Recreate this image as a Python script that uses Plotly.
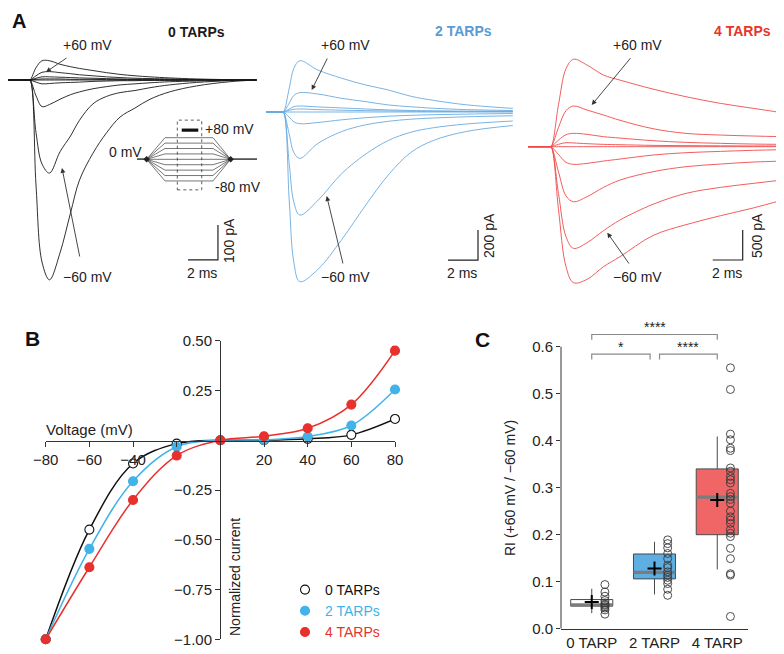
import plotly.graph_objects as go

# The page body adds an 8 px margin, so the figure is 8 px smaller and coordinates are offset.
W0, H0 = 784, 654
OFF = 8
W, H = W0 - OFF, H0 - OFF
FONT = "Liberation Sans, Arial, Helvetica, sans-serif"

# ---------------- DATA ----------------
voltages = [-80, -60, -40, -20, 0, 20, 40, 60, 80]

# Panel A: current traces (pA) sampled at times (ms) relative to step onset
t_0tarp = [-1.47, -0.15, 0, 0.4, 0.8, 1.3, 2.0, 2.7, 3.3, 4.2, 5.1, 6.0, 7.0, 8.0, 9.3, 11.1, 13.3, 15.1]
i_0tarp = {
    -80: [0, 0, 0, -300, -520, -571, -494, -380, -286, -209, -151, -106, -80, -55, -34, -17, -5, 0],
    -60: [0, 0, 0, -150, -240, -266, -205, -160, -115, -68, -47, -36, -30, -22, -14, -7, -2, 0],
    -40: [0, 0, 0, -45, -76, -70, -55, -42, -34, -25, -19, -14, -11, -8, -5, -3, -1, 0],
    -20: [0, 0, 0, -6, -11, -10, -8, -7, -6, -4, -3, -2, -2, -1, -1, 0, 0, 0],
    0:   [0, 0, 0, 0, 0, 0, 0, 0, 0, 0, 0, 0, 0, 0, 0, 0, 0, 0],
    20:  [0, 0, 0, 2, 3, 3, 3, 2, 2, 2, 1, 1, 1, 0, 0, 0, 0, 0],
    40:  [0, 0, 0, 5, 9, 9, 8, 7, 6, 5, 4, 3, 2, 2, 1, 1, 0, 0],
    60:  [0, 0, 0, 12, 22, 24, 21, 18, 15, 12, 9, 7, 5, 4, 3, 1, 0, 0],
    80:  [0, 0, 0, 35, 55, 55, 45, 38, 33, 27, 21, 16, 12, 9, 6, 3, 1, 0],
}

t_2tarp = [-1.15, -0.15, 0, 0.4, 0.7, 1.1, 2.3, 3.9, 5.5, 7.0, 8.5, 10.0, 12.2, 15.3]
i_2tarp = {
    -80: [0, 0, 0, -600, -1000, -1131, -1050, -850, -620, -420, -270, -190, -130, -90],
    -60: [0, 0, 0, -350, -600, -687, -590, -410, -280, -190, -135, -105, -80, -60],
    -40: [0, 0, 0, -150, -270, -309, -210, -130, -85, -62, -48, -40, -32, -25],
    -20: [0, 0, 0, -35, -65, -78, -70, -52, -38, -28, -22, -18, -14, -10],
    0:   [0, 0, 0, 0, 0, 0, 0, 0, 0, 0, 0, 0, 0, 0],
    20:  [0, 0, 0, 12, 18, 20, 16, 12, 9, 7, 5, 4, 3, 3],
    40:  [0, 0, 0, 20, 35, 40, 34, 27, 20, 14, 10, 8, 6, 5],
    60:  [0, 0, 0, 60, 110, 129, 120, 91, 69, 47, 35, 25, 16, 10],
    80:  [0, 0, 0, 160, 290, 342, 280, 225, 180, 147, 105, 78, 48, 24],
}

t_4tarp = [-1.53, -0.15, 0, 0.5, 1.0, 1.5, 2.4, 3.5, 4.6, 6.8, 9.0, 11.3, 13.5, 15.4]
i_4tarp = {
    -80: [0, 0, 0, -1050, -2000, -2267, -2211, -2000, -1833, -1480, -1300, -1150, -1020, -890],
    -60: [0, 0, 0, -780, -1500, -1694, -1600, -1400, -1222, -960, -778, -678, -611, -556],
    -40: [0, 0, 0, -420, -820, -917, -833, -678, -556, -417, -333, -289, -256, -240],
    -20: [0, 0, 0, -130, -260, -294, -278, -239, -206, -139, -100, -78, -60, -50],
    0:   [0, 0, 0, 0, 0, 0, 0, 0, 0, 0, 0, 0, 0, 0],
    20:  [0, 0, 0, 40, 67, 62, 50, 39, 33, 22, 17, 15, 12, 11],
    40:  [0, 0, 0, 110, 200, 222, 206, 167, 144, 100, 72, 56, 44, 39],
    60:  [0, 0, 0, 320, 600, 678, 611, 528, 440, 300, 222, 194, 178, 167],
    80:  [0, 0, 0, 700, 1300, 1457, 1361, 1194, 1110, 960, 833, 722, 639, 567],
}

scale_ms = 2
scale_pA = [100, 200, 500]

# Voltage protocol (inset)
protocol_t = [0, 1.2, 3.5, 9.5, 11.7, 15]

# Panel B: normalized I-V
iv_v = [-80, -60, -40, -20, 0, 20, 40, 60, 80]
iv_0 = [-1.0, -0.449, -0.117, -0.017, 0, 0.0, 0.007, 0.027, 0.107]
iv_2 = [-1.0, -0.546, -0.206, -0.033, 0, 0.002, 0.019, 0.074, 0.255]
iv_4 = [-1.0, -0.638, -0.300, -0.077, 0, 0.020, 0.060, 0.179, 0.450]
iv_4_err = [0, 0, 0, 0, 0, 0, 0, 0, 0.02]

# Panel C: rectification index
c_groups = ["0 TARP", "2 TARP", "4 TARP"]
c_q1 = [0.048, 0.106, 0.200]
c_median = [0.051, 0.120, 0.280]
c_q3 = [0.062, 0.159, 0.340]
c_low = [0.033, 0.073, 0.126]
c_high = [0.085, 0.185, 0.409]
c_mean = [0.057, 0.128, 0.274]
c_points = [
    [0.094, 0.078, 0.069, 0.060, 0.055, 0.052, 0.050, 0.047, 0.044, 0.040, 0.031],
    [0.189, 0.181, 0.172, 0.160, 0.149, 0.135, 0.130, 0.121, 0.114, 0.109, 0.103, 0.096, 0.084, 0.071],
    [0.555, 0.509, 0.414, 0.402, 0.384, 0.379, 0.342, 0.335, 0.324, 0.317, 0.310, 0.288, 0.281,
     0.275, 0.267, 0.250, 0.238, 0.231, 0.224, 0.211, 0.203, 0.196, 0.171, 0.149, 0.117, 0.114, 0.026],
]
sig_pairs = [(0, 2), (0, 1), (1, 2)]
sig_labels = ["****", "*", "****"]

# ---------------- helpers (reference-pixel -> paper) ----------------
def px(x): return (x - OFF) / W
def py(y): return 1 - (y - OFF) / H
def xdom(a, b): return [max(0.0, px(a)), min(1.0, px(b))]
def ydom(top, bottom): return [max(0.0, py(bottom)), min(1.0, py(top))]

fig = go.Figure()

# ---------------- Panel A traces ----------------
panels = [
    (t_0tarp, i_0tarp, "x", "y", "#1a1a1a"),
    (t_2tarp, i_2tarp, "x2", "y2", "#6aaae0"),
    (t_4tarp, i_4tarp, "x3", "y3", "#f04b4b"),
]
for tt, data, xa, ya, col in panels:
    for v in voltages:
        fig.add_trace(go.Scatter(x=tt, y=data[v], mode="lines", xaxis=xa, yaxis=ya,
                                 line=dict(color=col, width=0.9, shape="spline", smoothing=1),
                                 showlegend=False, hoverinfo="skip"))

# scale bars (corner position in each panel's data units)
corners = [(12.53, -514, "x", "y"), (12.98, -987, "x2", "y2"), (12.78, -1888, "x3", "y3")]
for (ct, ci, xa, ya), spa in zip(corners, scale_pA):
    fig.add_trace(go.Scatter(x=[ct - scale_ms, ct, ct], y=[ci, ci, ci + spa], mode="lines",
                             xaxis=xa, yaxis=ya, line=dict(color="#222", width=1.2),
                             showlegend=False, hoverinfo="skip"))

# protocol inset
for v in voltages:
    fig.add_trace(go.Scatter(x=protocol_t, y=[0, 0, v, v, 0, 0], mode="lines", xaxis="x4", yaxis="y4",
                             line=dict(color="#555", width=0.8), showlegend=False, hoverinfo="skip"))
fig.add_trace(go.Scatter(x=[protocol_t[1], protocol_t[4]], y=[0, 0], mode="markers", xaxis="x4", yaxis="y4",
                         marker=dict(symbol="diamond", size=5, color="#222"), showlegend=False, hoverinfo="skip"))

# ---------------- Panel B ----------------
iv_sets = [
    (iv_0, "#111111", "white", "0 TARPs", None),
    (iv_2, "#41b3e9", "#41b3e9", "2 TARPs", None),
    (iv_4, "#e8302c", "#e8302c", "4 TARPs", iv_4_err),
]
for vals, col, fill, name, err in iv_sets:
    fig.add_trace(go.Scatter(x=iv_v, y=vals, mode="lines", xaxis="x5", yaxis="y5",
                             line=dict(color=col, width=1.5, shape="spline", smoothing=1),
                             showlegend=False, hoverinfo="skip"))
for vals, col, fill, name, err in iv_sets:
    tcol = "#111111" if name.startswith("0") else col
    fig.add_trace(go.Scatter(
        x=iv_v, y=vals, mode="markers", xaxis="x5", yaxis="y5", cliponaxis=False,
        marker=dict(size=9, color=fill, line=dict(color=col, width=1.1)),
        error_y=dict(type="data", array=err, visible=err is not None, color=col, thickness=1.2, width=3),
        name=f'<span style="color:{tcol}">{name}</span>', showlegend=True))

# ---------------- Panel C ----------------
fills = ["white", "#5eaee2", "#f06566"]
box_w = 0.67
pt_off = 0.21
for i in range(3):
    fig.add_trace(go.Box(x=[i], q1=[c_q1[i]], median=[c_median[i]], q3=[c_q3[i]],
                         lowerfence=[c_low[i]], upperfence=[c_high[i]], width=box_w,
                         fillcolor=fills[i], line=dict(color="#4a4a4a", width=1), whiskerwidth=0,
                         boxpoints=False, xaxis="x6", yaxis="y6", showlegend=False, hoverinfo="skip"))
    fig.add_trace(go.Scatter(x=[i - box_w / 2, i + box_w / 2], y=[c_median[i]] * 2, mode="lines",
                             xaxis="x6", yaxis="y6", line=dict(color="#7c7c7c", width=3.2),
                             showlegend=False, hoverinfo="skip"))
    fig.add_trace(go.Scatter(x=[i + pt_off] * len(c_points[i]), y=c_points[i], mode="markers",
                             xaxis="x6", yaxis="y6", cliponaxis=False,
                             marker=dict(symbol="circle-open", size=8, color="#3a3a3a", line=dict(width=0.9)),
                             showlegend=False, hoverinfo="skip"))
    fig.add_trace(go.Scatter(x=[i], y=[c_mean[i]], mode="markers", xaxis="x6", yaxis="y6",
                             marker=dict(symbol="cross-thin", size=10, line=dict(color="black", width=2)),
                             showlegend=False, hoverinfo="skip"))

# significance brackets
br_levels = [0.626, 0.584, 0.584]
br_gap = [(0.0, 0.0), (0.0, 0.07), (0.08, 0.0)]
br_drop = 0.011
for (a, b), lvl, (ga, gb), lab in zip(sig_pairs, br_levels, br_gap, sig_labels):
    xa_, xb_ = a + ga, b - gb
    fig.add_trace(go.Scatter(x=[xa_, xa_, xb_, xb_], y=[lvl - br_drop, lvl, lvl, lvl - br_drop], mode="lines",
                             xaxis="x6", yaxis="y6", line=dict(color="#8a8a8a", width=1.2),
                             showlegend=False, hoverinfo="skip"))
    fig.add_annotation(x=(xa_ + xb_) / 2, y=lvl, xref="x6", yref="y6", text=lab, showarrow=False,
                       yanchor="bottom", yshift=-3, font=dict(size=14, color="#222", family=FONT))

# ---------------- Layout ----------------
def lin_range(p_lo, p_hi, p_ref, scale, v_ref=0.0):
    # data range for an axis spanning pixels [p_lo, p_hi] with value v_ref at p_ref, 'scale' px per unit
    return [v_ref + (p_lo - p_ref) / scale, v_ref + (p_hi - p_ref) / scale]

hidden = dict(visible=False, showgrid=False, zeroline=False, fixedrange=True, automargin=False)
a1x = [OFF, 258]
a2x, a3x = [262, 520], [524, 784]
layout = dict(
    width=W, height=H, margin=dict(l=0, r=0, t=0, b=0, pad=0, autoexpand=False),
    paper_bgcolor="white", plot_bgcolor="white", boxmode="overlay",
    font=dict(family=FONT, color="#222"),
    xaxis=dict(domain=xdom(*a1x), range=lin_range(a1x[0], a1x[1], 30, 15), anchor="y", **hidden),
    yaxis=dict(domain=ydom(20, 290), range=[-(290 - 80) / 0.35, (80 - 20) / 0.35], anchor="x", **hidden),
    xaxis2=dict(domain=xdom(*a2x), range=lin_range(a2x[0], a2x[1], 283.3, 15), anchor="y2", **hidden),
    yaxis2=dict(domain=ydom(20, 290), range=[-(290 - 112) / 0.15, (112 - 20) / 0.15], anchor="x2", **hidden),
    xaxis3=dict(domain=xdom(*a3x), range=lin_range(a3x[0], a3x[1], 551, 15), anchor="y3", **hidden),
    yaxis3=dict(domain=ydom(20, 290), range=[-(290 - 146.7) / 0.06, (146.7 - 20) / 0.06], anchor="x3", **hidden),
    xaxis4=dict(domain=xdom(137, 257), range=[0, 15], anchor="y4", **hidden),
    yaxis4=dict(domain=ydom(115, 195), range=[-132, 164], anchor="x4", **hidden),
    xaxis5=dict(domain=xdom(45.7, 395), range=[-80, 80], anchor="free", position=py(440.7),
                showline=True, linecolor="#333", linewidth=1, ticks="outside", ticklen=5, tickcolor="#333",
                tickvals=[-80, -60, -40, -20, 20, 40, 60, 80],
                ticktext=["−80", "−60", "−40", "", "20", "40", "60", "80"], automargin=False,
                tickfont=dict(size=15, color="#222"), showgrid=False, zeroline=False, fixedrange=True),
    yaxis5=dict(domain=ydom(340.7, 639.3), range=[-1, 0.5], anchor="free", position=px(220),
                showline=True, linecolor="#333", linewidth=1, ticks="outside", ticklen=5, tickcolor="#333",
                tickvals=[0.5, 0.25, -0.25, -0.5, -0.75, -1.0], automargin=False,
                ticktext=["0.50", "0.25", "−0.25", "−0.50", "−0.75", "−1.00"],
                tickfont=dict(size=15, color="#222"), showgrid=False, zeroline=False, fixedrange=True),
    xaxis6=dict(domain=xdom(561, 748), range=[-0.49, 2.49], anchor="y6", automargin=False,
                showline=True, linecolor="#333", linewidth=1, ticks="",
                tickvals=[0, 1, 2], ticktext=c_groups, tickfont=dict(size=15, color="#222"),
                showgrid=False, zeroline=False, fixedrange=True),
    yaxis6=dict(domain=ydom(318.5, 628.7), range=[0, 0.66], anchor="x6", showline=False, automargin=False,
                ticks="outside", ticklen=4, tickcolor="#333",
                tickvals=[0, 0.1, 0.2, 0.3, 0.4, 0.5, 0.6],
                ticktext=["0.0", "0.1", "0.2", "0.3", "0.4", "0.5", "0.6"],
                tickfont=dict(size=15, color="#222"), showgrid=False, zeroline=False, fixedrange=True),
    legend=dict(x=px(285), y=py(574), xanchor="left", yanchor="top", bgcolor="rgba(0,0,0,0)",
                font=dict(size=14, family=FONT), tracegroupgap=0),
    showlegend=True,
)
fig.update_layout(**layout)

# C y-axis line (0 to 0.6)
fig.add_shape(type="line", xref="x6 domain", yref="y6", x0=0, x1=0, y0=0, y1=0.6,
              line=dict(color="#333", width=1))
# protocol dashed window and bar
fig.add_shape(type="rect", xref="x4", yref="y4", x0=5.04, x1=8.09, y0=-113, y1=145,
              line=dict(color="#333", width=0.8, dash="dot"))
fig.add_shape(type="line", xref="x4", yref="y4", x0=5.59, x1=7.66, y0=108, y1=108,
              line=dict(color="#111", width=3.2))

def label(x, y, text, size=14, color="#222", bold=False, angle=0, xanchor="center"):
    if bold:
        text = f"<b>{text}</b>"
    fig.add_annotation(x=px(x), y=py(y), xref="paper", yref="paper", text=text, showarrow=False,
                       textangle=angle, xanchor=xanchor, yanchor="middle",
                       font=dict(size=size, color=color, family=FONT))

def arrow(hx, hy, tx, ty):
    fig.add_annotation(x=px(hx), y=py(hy), xref="paper", yref="paper", text="", showarrow=True,
                       ax=tx - hx, ay=ty - hy, arrowhead=2, arrowsize=1.1, arrowwidth=0.9,
                       arrowcolor="#333")

label(19, 21, "A", size=20, color="#111", bold=True)
label(33, 338, "B", size=21, color="#111", bold=True)
label(482, 339, "C", size=21, color="#111", bold=True)

label(196, 32, "0 TARPs", bold=True, color="#1a1a1a")
label(463, 31, "2 TARPs", bold=True, color="#5b9bd5")
label(742, 31, "4 TARPs", bold=True, color="#e8352b")

for cx, (h1, t1), (h2, t2) in [
    (87, ((46, 72), (68, 57)), ((62, 168), (80, 258))),
    (345, ((311.7, 90), (328, 57)), ((326.7, 196), (343.3, 265))),
    (637, ((591.7, 105), (631.7, 56.7)), ((607.3, 232.7), (630, 265))),
]:
    label(cx, 45, "+60 mV")
    label(cx, 277, "−60 mV")
    arrow(h1[0], h1[1], t1[0], t1[1])
    arrow(h2[0], h2[1], t2[0], t2[1])

for (lx, ly, txt), mx in zip([(229, 241, "100 pA"), (489, 236, "200 pA"), (757, 236, "500 pA")],
                             [202, 462, 727]):
    label(lx, ly, txt, angle=-90)
    label(mx, 273, "2 ms")

label(144, 152, "0 mV", xanchor="right")
label(203, 129, "+80 mV", xanchor="left")
label(213, 187, "-80 mV", xanchor="left")

label(89.5, 429, "Voltage (mV)", size=15)
label(235, 577, "Normalized current", angle=-90)
label(510, 488, "RI (+60 mV / −60 mV)", angle=-90)

fig.write_html("out.html")
